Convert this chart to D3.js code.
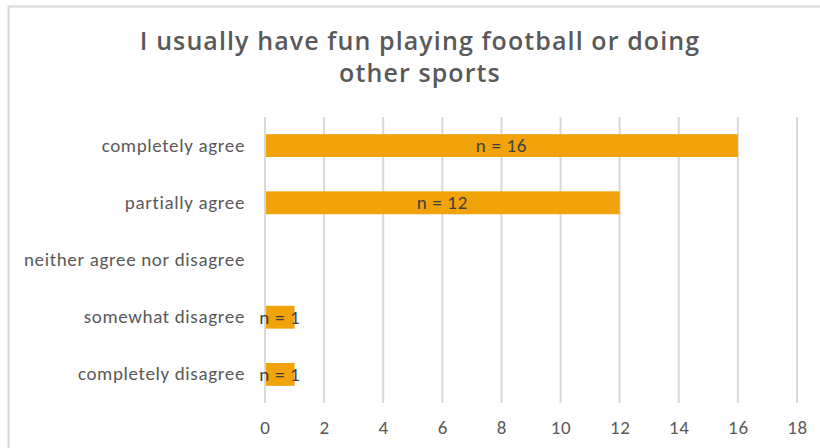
<!DOCTYPE html>
<html>
<head>
<meta charset="utf-8">
<script src="https://cdn.jsdelivr.net/npm/d3@7/dist/d3.min.js"></script>
<style>
  html, body { margin: 0; padding: 0; background: #fff; }
  svg { display: block; }
</style>
</head>
<body>
<svg id="chart" width="820" height="448"></svg>
<script>
// Survey answers and counts
const categories = [
  "completely agree",
  "partially agree",
  "neither agree nor disagree",
  "somewhat disagree",
  "completely disagree"
];
const counts = [16, 12, null, 1, 1];
const xTicks = [0, 2, 4, 6, 8, 10, 12, 14, 16, 18];
const titleLines = ["I usually have fun playing football or doing", "other sports"];

const svg = d3.select("#chart");
const W = 820, H = 448;
const font = "Carlito, Lato, 'Open Sans', 'Liberation Sans', sans-serif";
const titleFont = "'Open Sans', Carlito, sans-serif";
const grey = "#595959";
const labelSize = 19, labelSpacing = 0.65;

// chart frame
svg.append("rect")
  .attr("x", 8.5).attr("y", 6.5)
  .attr("width", W + 10).attr("height", H + 10)
  .attr("fill", "#fff").attr("stroke", "#d9d9d9").attr("stroke-width", 2);

const plot = { left: 265, right: 797, top: 117, bottom: 403 };

const x = d3.scaleLinear().domain([0, 18]).range([plot.left, plot.right]);
const y = d3.scaleBand().domain(categories).range([plot.top, plot.bottom]).paddingInner(0.6).paddingOuter(0.3);

// title, two lines
svg.append("g").selectAll("text").data(titleLines).join("text")
  .attr("x", 420).attr("y", (d, i) => 50 + i * 32)
  .attr("text-anchor", "middle")
  .attr("font-family", titleFont).attr("font-size", 25).attr("font-weight", 600)
  .attr("letter-spacing", 1.1)
  .attr("fill", grey)
  .text(d => d);

// vertical gridlines
svg.append("g").selectAll("line").data(xTicks).join("line")
  .attr("x1", d => x(d)).attr("x2", d => x(d))
  .attr("y1", plot.top).attr("y2", plot.bottom)
  .attr("stroke", "#d9d9d9").attr("stroke-width", 2);

// x axis labels
const xAxis = d3.axisBottom(x).tickValues(xTicks).tickSize(0).tickPadding(0);
const gx = svg.append("g").attr("transform", `translate(0,${plot.bottom})`).call(xAxis);
gx.select(".domain").remove();
gx.selectAll("text")
  .attr("y", 31).attr("dy", 0)
  .attr("font-family", font).attr("font-size", labelSize)
  .attr("letter-spacing", labelSpacing).attr("fill", grey);

// y axis labels
const yAxis = d3.axisLeft(y).tickSize(0).tickPadding(0);
const gy = svg.append("g").attr("transform", `translate(${plot.left - 20},0)`).call(yAxis);
gy.select(".domain").remove();
gy.selectAll("text")
  .attr("font-family", font).attr("font-size", labelSize)
  .attr("letter-spacing", labelSpacing).attr("fill", grey);

// bars
const rows = categories.map((c, i) => ({ c, v: counts[i] })).filter(d => d.v != null);
svg.append("g").selectAll("rect").data(rows).join("rect")
  .attr("x", x(0) + 1)
  .attr("y", d => y(d.c))
  .attr("width", d => x(d.v) - x(0) - 1)
  .attr("height", y.bandwidth())
  .attr("fill", "#f0a30a");

// value labels
svg.append("g").selectAll("text").data(rows).join("text")
  .attr("x", d => (x(0) + x(d.v)) / 2)
  .attr("y", d => y(d.c) + y.bandwidth() / 2)
  .attr("dy", "0.35em")
  .attr("text-anchor", "middle")
  .attr("font-family", font).attr("font-size", labelSize)
  .attr("letter-spacing", labelSpacing).attr("fill", "#404040")
  .text(d => `n = ${d.v}`);
</script>
</body>
</html>
